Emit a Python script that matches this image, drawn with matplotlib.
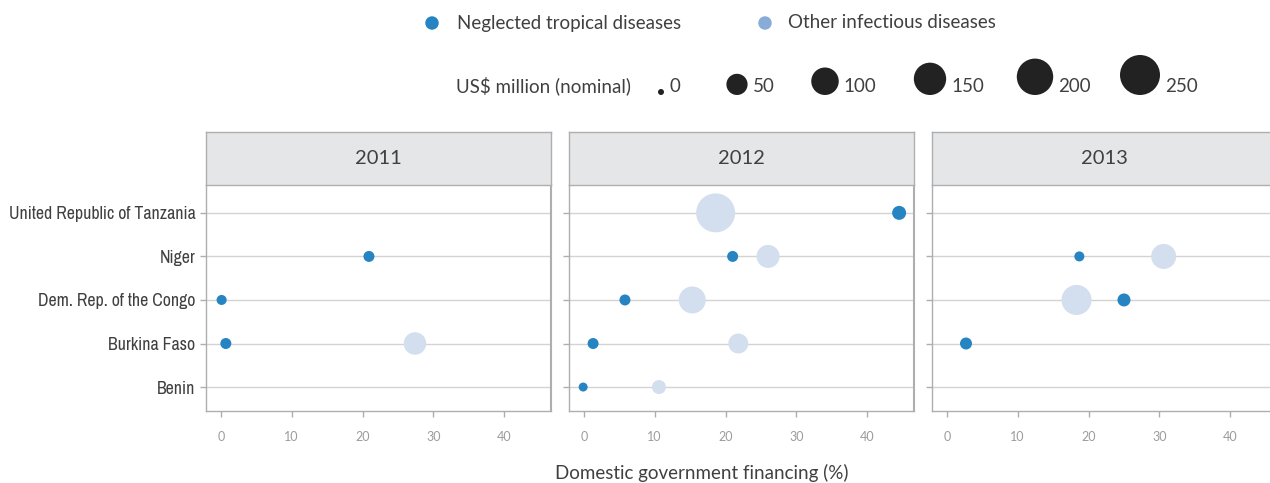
import matplotlib
matplotlib.use('Agg')
import matplotlib.pyplot as plt
import numpy as np
from matplotlib import font_manager

# --- data ---
countries = ['Benin', 'Burkina Faso', 'Dem. Rep. of the Congo', 'Niger',
             'United Republic of Tanzania']
years = ['2011', '2012', '2013']

# x = domestic government financing (%), v = US$ million (nominal)
ntd_country = [['Niger', 'Dem. Rep. of the Congo', 'Burkina Faso'],
               ['United Republic of Tanzania', 'Niger', 'Dem. Rep. of the Congo',
                'Burkina Faso', 'Benin'],
               ['Niger', 'Dem. Rep. of the Congo', 'Burkina Faso']]
ntd_x = [[20.9, 0.1, 0.7],
         [44.5, 21.0, 5.8, 1.3, -0.1],
         [18.7, 25.0, 2.7]]
ntd_v = [[5.4, 3.5, 5.4],
         [13.8, 5.4, 5.4, 5.4, 1.9],
         [3.5, 10.6, 7.8]]

oth_country = [['Dem. Rep. of the Congo', 'Burkina Faso'],
               ['United Republic of Tanzania', 'Niger', 'Dem. Rep. of the Congo',
                'Burkina Faso', 'Benin'],
               ['Niger', 'Dem. Rep. of the Congo']]
oth_x = [[0.3, 27.4],
         [18.6, 26.0, 15.3, 21.8, 10.6],
         [30.6, 18.3]]
oth_v = [[1.0, 58.9],
         [235.0, 62.5, 95.0, 42.0, 13.8],
         [78.0, 125.0]]

size_breaks = [0, 50, 100, 150, 200, 250]
x_ticks = [0, 10, 20, 30, 40]

# --- style ---
W, H, DPI = 1270, 483, 100
NTD_COL = '#2584c1'
OTH_COL = '#d3dfee'
OTH_LEG = '#86acd7'
GRID = '#d3d3d3'
SPINE = '#aeaeae'
TXT = '#404040'
TITLE_FONT = ['Lato', 'DejaVu Sans']

# regular condensed face for the country labels, if one is around
cond = []
for f in font_manager.fontManager.ttflist:
    fn = f.fname.lower()
    if ('condensed' in fn or 'narrow' in fn) and not any(
            w in fn for w in ('bold', 'oblique', 'italic', 'light', 'black')):
        cond.append(f.fname)
cond.sort(key=lambda p: ('narrow' not in p.lower(), len(p)))
if cond:
    LABEL_FP = font_manager.FontProperties(fname=cond[0], size=12.8)
else:
    LABEL_FP = font_manager.FontProperties(family='Liberation Sans', size=10.5)


def diam_px(v):
    # diameter linear in sqrt(value), 6px at 0 to 40px at 250
    return 6 + 34 * np.sqrt(np.asarray(v, dtype=float) / 250.0)


def s_area(v):
    return (diam_px(v) * 72.0 / DPI) ** 2


fig = plt.figure(figsize=(W / DPI, H / DPI), dpi=DPI)
ypos = {c: i + 1 for i, c in enumerate(countries)}

panel_left = [206, 569, 932]
panel_w = 345
for k, yr in enumerate(years):
    left = panel_left[k] / W
    width = panel_w / W
    ax = fig.add_axes([left, (H - 411) / H, width, 226 / H])
    st = fig.add_axes([left, (H - 185) / H, width, 53 / H])

    for c in countries:
        ax.axhline(ypos[c], color=GRID, lw=1, zorder=0)
    ax.scatter(oth_x[k], [ypos[c] for c in oth_country[k]], s=s_area(oth_v[k]),
               color=OTH_COL, edgecolors='none', zorder=2)
    ax.scatter(ntd_x[k], [ypos[c] for c in ntd_country[k]], s=s_area(ntd_v[k]),
               color=NTD_COL, edgecolors='none', zorder=3)

    ax.set_xlim(-2.1, 46.6)
    ax.set_ylim(0.45, 5.64)
    ax.set_xticks(x_ticks)
    ax.set_xticklabels([str(t) for t in x_ticks], fontsize=9, color='#9c9c9c',
                       family=TITLE_FONT)
    ax.set_yticks([ypos[c] for c in countries])
    if k == 0:
        ax.set_yticklabels(countries, fontproperties=LABEL_FP, color=TXT)
    else:
        ax.set_yticklabels([])
    ax.tick_params(axis='both', colors=SPINE, length=4.5, width=1)
    ax.tick_params(axis='x', labelcolor='#9c9c9c', pad=10)
    ax.tick_params(axis='y', labelcolor=TXT, pad=3)
    for sp in ['top', 'right']:
        ax.spines[sp].set_visible(False)
    for sp in ['left', 'bottom']:
        ax.spines[sp].set_color(SPINE)
        ax.spines[sp].set_linewidth(1)

    st.set_facecolor('#e5e6e8')
    st.set_xticks([])
    st.set_yticks([])
    for sp in st.spines.values():
        sp.set_color(SPINE)
        sp.set_linewidth(1)
    st.text(0.5, 0.5, yr, ha='center', va='center', fontsize=14.5, color=TXT,
            family=TITLE_FONT, transform=st.transAxes)
    # right border of the whole panel
    ax.axvline(46.6, color=SPINE, lw=1.5, clip_on=False)

# --- legend, drawn on an overlay axes in pixel units ---
lg = fig.add_axes([0, 0, 1, 1], facecolor='none')
lg.set_xlim(0, W)
lg.set_ylim(H, 0)
lg.axis('off')

lg.scatter([432], [23], s=s_area(12), color=NTD_COL, edgecolors='none')
lg.text(457, 23, 'Neglected tropical diseases', va='center', ha='left',
        fontsize=13.5, color=TXT, family=TITLE_FONT)
lg.scatter([765], [23], s=s_area(12), color=OTH_LEG, edgecolors='none')
lg.text(788, 23, 'Other infectious diseases', va='center', ha='left',
        fontsize=13.5, color=TXT, family=TITLE_FONT)

lg.text(456, 86, 'US$ million (nominal)', va='center', ha='left',
        fontsize=13.5, color=TXT, family=TITLE_FONT)
key_x = [661, 737, 825, 930, 1035, 1140]
for bx, b in zip(key_x, size_breaks):
    d = float(diam_px(b))
    lg.scatter([bx], [95 - d / 2], s=s_area(b), color='#222222', edgecolors='none')
    lg.text(bx + d / 2 + 5, 86, str(b), va='center', ha='left',
            fontsize=13.5, color=TXT, family=TITLE_FONT)

lg.text(702, 473, 'Domestic government financing (%)', va='center', ha='center',
        fontsize=13.5, color=TXT, family=TITLE_FONT)

fig.savefig('out.png', dpi=DPI)
